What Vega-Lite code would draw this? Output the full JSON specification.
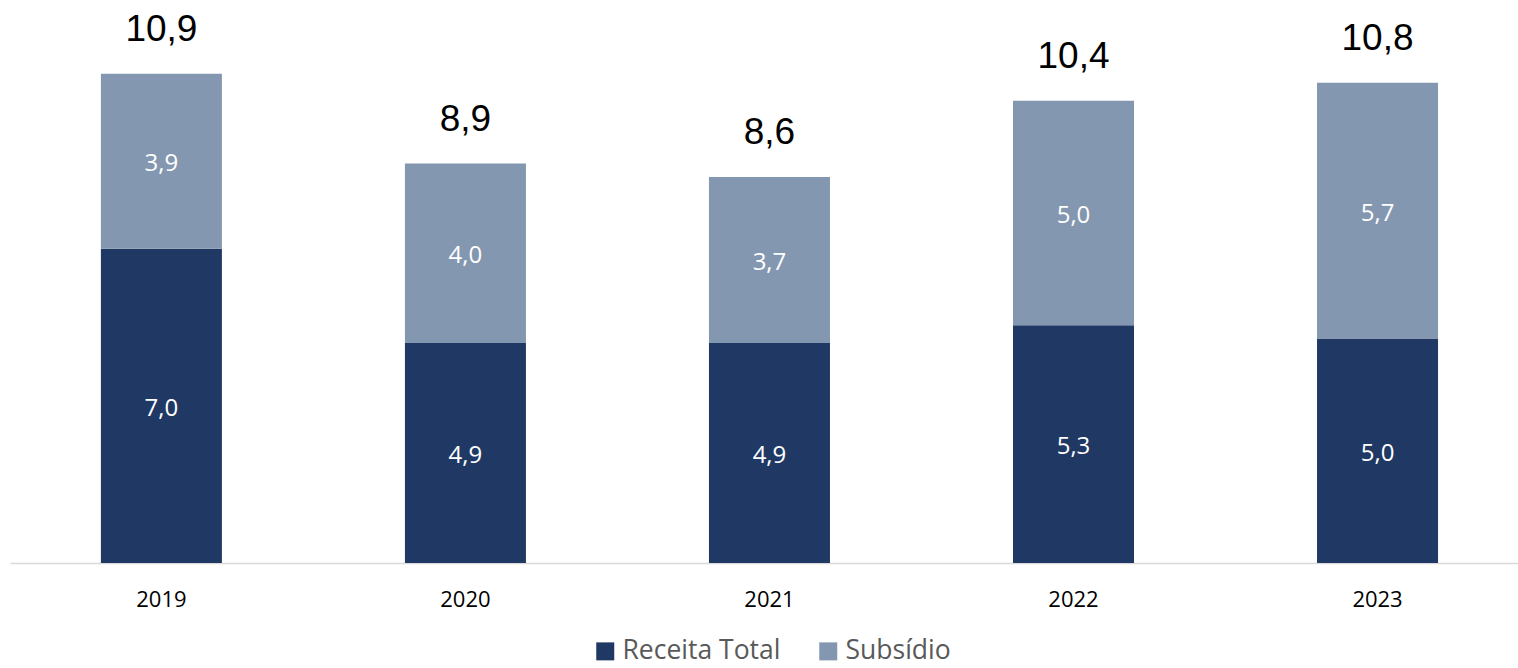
{
  "$schema": "https://vega.github.io/schema/vega-lite/v6.json",
  "width": 1508,
  "height": 561,
  "padding": {"left": 10, "top": 2, "right": 0, "bottom": 105},
  "autosize": {"type": "none"},
  "background": "white",
  "config": {
    "view": {"stroke": null},
    "locale": {"number": {"decimal": ",", "thousands": ".", "grouping": [3], "currency": ["", ""]}}
  },
  "datasets": {
    "seg": [
      {"ano": "2019", "serie": "Receita Total", "valor": 7.0},
      {"ano": "2019", "serie": "Subsídio", "valor": 3.9},
      {"ano": "2020", "serie": "Receita Total", "valor": 4.9},
      {"ano": "2020", "serie": "Subsídio", "valor": 4.0},
      {"ano": "2021", "serie": "Receita Total", "valor": 4.9},
      {"ano": "2021", "serie": "Subsídio", "valor": 3.7},
      {"ano": "2022", "serie": "Receita Total", "valor": 5.3},
      {"ano": "2022", "serie": "Subsídio", "valor": 5.0},
      {"ano": "2023", "serie": "Receita Total", "valor": 5.0},
      {"ano": "2023", "serie": "Subsídio", "valor": 5.7}
    ],
    "tot": [
      {"ano": "2019", "topo": 10.9, "total": 10.9},
      {"ano": "2020", "topo": 8.9, "total": 8.9},
      {"ano": "2021", "topo": 8.6, "total": 8.6},
      {"ano": "2022", "topo": 10.3, "total": 10.4},
      {"ano": "2023", "topo": 10.7, "total": 10.8}
    ]
  },
  "layer": [
    {
      "data": {"name": "seg"},
      "mark": {"type": "bar"},
      "encoding": {
        "x": {
          "field": "ano", "type": "nominal",
          "scale": {"paddingInner": 0.602, "paddingOuter": 0.281, "align": 0.532},
          "axis": {
            "title": null, "labelAngle": 0, "ticks": false,
            "domainColor": "#D9D9D9", "domainWidth": 1.5,
            "labelFont": "Open Sans", "labelFontSize": 22, "labelColor": "#000000",
            "labelPadding": 26
          }
        },
        "y": {
          "field": "valor", "type": "quantitative", "stack": "zero",
          "scale": {"domain": [0, 12.5], "nice": false},
          "axis": null
        },
        "color": {
          "field": "serie", "type": "nominal",
          "scale": {"domain": ["Receita Total", "Subsídio"], "range": ["#203864", "#8497B0"]},
          "legend": {
            "title": null, "orient": "none", "direction": "horizontal",
            "legendX": 582, "legendY": 636,
            "symbolType": "square", "symbolSize": 324, "symbolStrokeWidth": 0,
            "labelFont": "Open Sans", "labelFontSize": 26.5, "labelColor": "#595959",
            "labelOffset": 4, "labelLimit": 400, "columnPadding": 34, "padding": 0
          }
        },
        "order": {"field": "serie", "sort": "ascending"}
      }
    },
    {
      "data": {"name": "seg"},
      "transform": [
        {"stack": "valor", "groupby": ["ano"], "sort": [{"field": "serie", "order": "ascending"}], "as": ["v0", "v1"]},
        {"calculate": "(datum.v0 + datum.v1) / 2", "as": "meio"}
      ],
      "mark": {"type": "text", "font": "Open Sans", "fontSize": 24, "color": "white", "baseline": "middle", "dy": 3},
      "encoding": {
        "x": {"field": "ano", "type": "nominal"},
        "y": {"field": "meio", "type": "quantitative"},
        "text": {"field": "valor", "type": "quantitative", "format": ".1f"}
      }
    },
    {
      "data": {"name": "tot"},
      "mark": {"type": "text", "font": "Liberation Sans", "fontSize": 37, "color": "black", "baseline": "alphabetic", "dy": -33},
      "encoding": {
        "x": {"field": "ano", "type": "nominal"},
        "y": {"field": "topo", "type": "quantitative"},
        "text": {"field": "total", "type": "quantitative", "format": ".1f"}
      }
    }
  ]
}
